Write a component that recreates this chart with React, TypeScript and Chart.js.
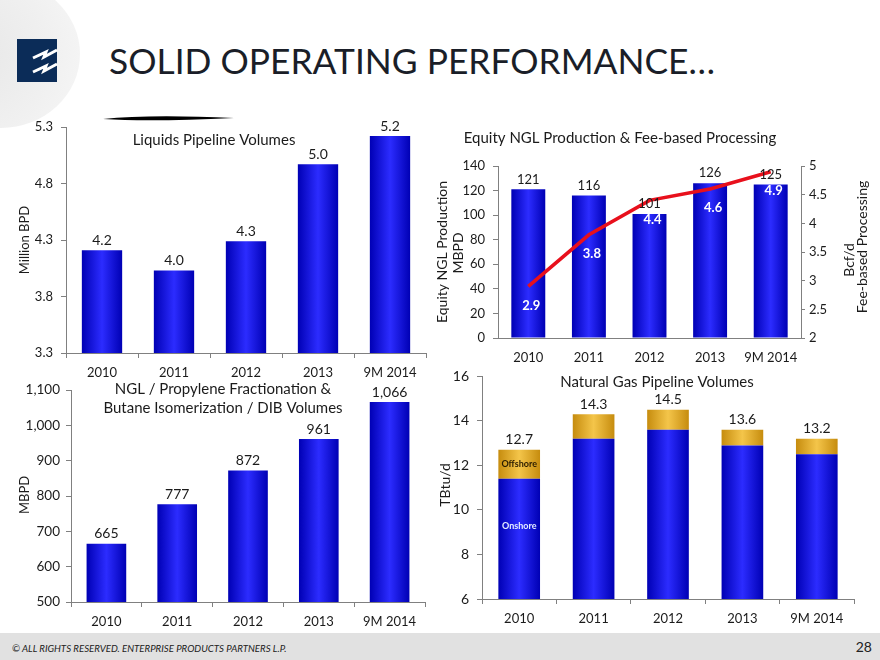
import React, { useEffect, useRef } from "react";
import { Chart, registerables } from "chart.js";

Chart.register(...registerables);

// ---------- data ----------
const years = ["2010", "2011", "2012", "2013", "9M 2014"];

const liquidsVolumes = [4.21, 4.03, 4.29, 4.97, 5.22];
const liquidsTicks = [3.3, 3.8, 4.3, 4.8, 5.3];

const nglProduction = [121, 116, 101, 126, 125];
const nglTicks = [0, 20, 40, 60, 80, 100, 120, 140];
const feeProcessing = [2.9, 3.8, 4.4, 4.6, 4.9];
const feeTicks = [2, 2.5, 3, 3.5, 4, 4.5, 5];

const fractionation = [665, 777, 872, 961, 1066];
const fractionationTicks = [500, 600, 700, 800, 900, 1000, 1100];

const onshore = [11.4, 13.2, 13.6, 12.9, 12.5];
const offshore = [1.3, 1.1, 0.9, 0.7, 0.7];
const gasTicks = [6, 8, 10, 12, 14, 16];

// ---------- style ----------
const FONT = "Lato, 'Open Sans', 'DejaVu Sans', sans-serif";
const TEXT = "#1b1b1b";
const AXIS = "#808080";
const BLUE = ["#0000B4", "#2C2CFF"];
const GOLD = ["#C68C0E", "#F4C54A"];
const BAR_PCT = 0.56;

function gradientFill(stops: string[]) {
  return (ctx: any) => {
    const chart = ctx.chart;
    const xs = chart.scales && chart.scales.x;
    if (ctx.type !== "data" || !xs || !chart.chartArea) return stops[1];
    const cx = xs.getPixelForValue(ctx.dataIndex);
    const w = (xs.width / years.length) * BAR_PCT;
    if (!isFinite(cx) || !isFinite(w)) return stops[1];
    const g = chart.ctx.createLinearGradient(cx - w / 2, 0, cx + w / 2, 0);
    g.addColorStop(0, stops[0]);
    g.addColorStop(0.5, stops[1]);
    g.addColorStop(1, stops[0]);
    return g;
  };
}

function txt(c: CanvasRenderingContext2D, s: string, x: number, y: number, size: number, o: any = {}) {
  c.save();
  c.font = `${o.weight || "normal"} ${size}px ${FONT}`;
  c.fillStyle = o.color || TEXT;
  c.textAlign = o.align || "center";
  c.textBaseline = "middle";
  c.translate(x, y);
  if (o.rot) c.rotate(o.rot);
  c.fillText(s, 0, 0);
  c.restore();
}

function yAxis(ticks: number[], width: number, fmt: (v: number) => string, padding: number, position = "left", size = 13, tickLength = 5) {
  return {
    type: "linear",
    position,
    min: ticks[0],
    max: ticks[ticks.length - 1],
    afterBuildTicks: (s: any) => {
      s.ticks = ticks.map((v) => ({ value: v }));
    },
    afterFit: (s: any) => {
      s.width = width;
    },
    grid: { drawOnChartArea: false, drawTicks: true, tickLength, color: AXIS },
    border: { color: AXIS },
    ticks: { font: { size, family: FONT }, color: TEXT, padding, callback: (v: number) => fmt(v) },
  };
}

function xAxis(height: number, drawTicks = true, padding = 7, size = 13) {
  return {
    type: "category",
    afterFit: (s: any) => {
      s.height = height;
    },
    grid: { drawOnChartArea: false, drawTicks, tickLength: 5, color: AXIS, offset: true },
    border: { color: AXIS },
    ticks: { font: { size, family: FONT }, color: TEXT, padding, maxRotation: 0, autoSkip: false },
  };
}

const baseOptions = (padding: any) => ({
  responsive: false,
  animation: false,
  layout: { padding },
  plugins: { legend: { display: false }, tooltip: { enabled: false } },
});

// ---------- chart configs ----------
function liquidsConfig(): any {
  return {
    type: "bar",
    data: {
      labels: years,
      datasets: [
        { data: liquidsVolumes, backgroundColor: gradientFill(BLUE), barPercentage: BAR_PCT, categoryPercentage: 1 },
      ],
    },
    options: {
      ...baseOptions({ top: 17, right: 4, left: 0, bottom: 0 }),
      scales: { x: xAxis(32), y: yAxis(liquidsTicks, 66, (v) => v.toFixed(1), 8) },
    },
    plugins: [
      {
        id: "liqText",
        afterDatasetsDraw(chart: any) {
          const c = chart.ctx;
          txt(c, "Liquids Pipeline Volumes", 214, 30, 15);
          chart.getDatasetMeta(0).data.forEach((el: any, i: number) => {
            txt(c, liquidsVolumes[i].toFixed(1), el.x, el.y - 10, 14);
          });
          txt(c, "Million BPD", 25, 130, 13, { rot: -Math.PI / 2 });
        },
      },
    ],
  };
}

function nglConfig(): any {
  return {
    type: "bar",
    data: {
      labels: years,
      datasets: [
        {
          type: "line",
          data: feeProcessing,
          yAxisID: "y1",
          borderColor: "#E8101C",
          borderWidth: 3.5,
          pointRadius: 0,
          tension: 0,
          order: 0,
        },
        {
          type: "bar",
          data: nglProduction,
          yAxisID: "y",
          backgroundColor: gradientFill(BLUE),
          barPercentage: BAR_PCT,
          categoryPercentage: 1,
          order: 1,
        },
      ],
    },
    options: {
      ...baseOptions({ top: 46, right: 0, left: 0, bottom: 0 }),
      scales: {
        x: xAxis(32, false, 12),
        y: yAxis(nglTicks, 68, (v) => String(v), 8),
        y1: yAxis(feeTicks, 79, (v) => String(v), 4, "right", 13, 4),
      },
    },
    plugins: [
      {
        id: "nglText",
        afterDatasetsDraw(chart: any) {
          const c = chart.ctx;
          txt(c, "Equity NGL Production & Fee-based Processing", 190, 18, 15);
          chart.getDatasetMeta(1).data.forEach((el: any, i: number) => {
            txt(c, String(nglProduction[i]), el.x, el.y - 10, 13);
          });
          chart.getDatasetMeta(0).data.forEach((el: any, i: number) => {
            txt(c, feeProcessing[i].toFixed(1), el.x + 3, el.y + 19, 13, { color: "#FFFFFF", weight: "bold" });
          });
          txt(c, "Equity NGL Production", 12, 132, 14, { rot: -Math.PI / 2 });
          txt(c, "MBPD", 28, 133, 14, { rot: -Math.PI / 2 });
          txt(c, "Bcf/d", 419, 140, 14, { rot: -Math.PI / 2 });
          txt(c, "Fee-based Processing", 432, 127, 14, { rot: -Math.PI / 2 });
        },
      },
    ],
  };
}

function fractionationConfig(): any {
  return {
    type: "bar",
    data: {
      labels: years,
      datasets: [
        { data: fractionation, backgroundColor: gradientFill(BLUE), barPercentage: BAR_PCT, categoryPercentage: 1 },
      ],
    },
    options: {
      ...baseOptions({ top: 15, right: 5, left: 0, bottom: 0 }),
      scales: {
        x: xAxis(33),
        y: yAxis(fractionationTicks, 71, (v) => v.toLocaleString("en-US"), 6, "left", 13.5),
      },
    },
    plugins: [
      {
        id: "fracText",
        afterDatasetsDraw(chart: any) {
          const c = chart.ctx;
          txt(c, "NGL / Propylene Fractionation &", 223, 14, 15);
          txt(c, "Butane Isomerization / DIB Volumes", 223, 33, 15);
          chart.getDatasetMeta(0).data.forEach((el: any, i: number) => {
            txt(c, fractionation[i].toLocaleString("en-US"), el.x, el.y - 10, 14);
          });
          txt(c, "MBPD", 25, 120, 13, { rot: -Math.PI / 2 });
        },
      },
    ],
  };
}

function gasConfig(): any {
  return {
    type: "bar",
    data: {
      labels: years,
      datasets: [
        {
          label: "Onshore",
          data: onshore,
          backgroundColor: gradientFill(BLUE),
          barPercentage: BAR_PCT,
          categoryPercentage: 1,
        },
        {
          label: "Offshore",
          data: offshore,
          backgroundColor: gradientFill(GOLD),
          barPercentage: BAR_PCT,
          categoryPercentage: 1,
        },
      ],
    },
    options: {
      ...baseOptions({ top: 13, right: 26, left: 0, bottom: 0 }),
      scales: {
        x: { ...xAxis(36), stacked: true },
        y: { ...yAxis(gasTicks, 52, (v) => String(v), 8, "left", 14), stacked: true },
      },
    },
    plugins: [
      {
        id: "gasText",
        afterDatasetsDraw(chart: any) {
          const c = chart.ctx;
          const area = chart.chartArea;
          txt(c, "Natural Gas Pipeline Volumes", 227, 22, 15);
          chart.getDatasetMeta(1).data.forEach((el: any, i: number) => {
            const total = onshore[i] + offshore[i];
            txt(c, total.toFixed(1), el.x, el.y - 10, 14);
          });
          const off = chart.getDatasetMeta(1).data[0];
          const on = chart.getDatasetMeta(0).data[0];
          if (off) txt(c, "Offshore", off.x, (off.y + off.base) / 2, 9, { weight: "bold", color: "#2a1c00" });
          if (on) {
            const bottom = Math.min(on.base, area.bottom);
            txt(c, "Onshore", on.x, (on.y + bottom) / 2 - 13, 9, { weight: "bold", color: "#E4ECFF" });
          }
          txt(c, "TBtu/d", 15, 125, 14, { rot: -Math.PI / 2 });
        },
      },
    ],
  };
}

// ---------- components ----------
function ChartBox(props: { left: number; top: number; width: number; height: number; make: () => any }) {
  const ref = useRef<HTMLCanvasElement | null>(null);
  useEffect(() => {
    const chart = new Chart(ref.current as HTMLCanvasElement, props.make());
    return () => chart.destroy();
  }, []);
  return (
    <canvas
      ref={ref}
      width={props.width}
      height={props.height}
      style={{ position: "absolute", left: props.left, top: props.top, width: props.width, height: props.height }}
    />
  );
}

function fitScale(text: string, font: string, target: number) {
  try {
    const c = document.createElement("canvas").getContext("2d") as CanvasRenderingContext2D;
    c.font = font;
    const w = c.measureText(text).width;
    return w > 0 ? target / w : 1;
  } catch (e) {
    return 1;
  }
}

const TITLE = "SOLID OPERATING PERFORMANCE…";
const FOOTER = "© ALL RIGHTS RESERVED. ENTERPRISE PRODUCTS PARTNERS L.P.";

export default function App() {
  const titleScale = fitScale(TITLE, `35px ${FONT}`, 606);
  const footScale = fitScale(FOOTER, `italic 10px ${FONT}`, 275);
  return (
    <div
      style={{
        position: "absolute",
        left: 0,
        top: 0,
        width: 880,
        height: 660,
        overflow: "hidden",
        background: "#ffffff",
        fontFamily: FONT,
      }}
    >
      <div
        style={{
          position: "absolute",
          left: -78,
          top: -20,
          width: 158,
          height: 148,
          borderRadius: "50%",
          background: "radial-gradient(circle at 30% 50%, #e7e7e7 0%, #f0f0f0 60%, #f7f7f7 100%)",
        }}
      />
      <svg style={{ position: "absolute", left: 0, top: 0 }} width={260} height={130}>
        <rect x={17} y={39} width={40} height={43} fill="#0B2C58" />
        <polyline points="33,58 46,52 44,57 57,50" fill="none" stroke="#ffffff" strokeWidth={3} strokeLinejoin="miter" />
        <polyline points="33,72 46,66 44,71 57,64" fill="none" stroke="#ffffff" strokeWidth={3} strokeLinejoin="miter" />
        <path d="M103 119 Q150 114 234 118 Q150 122 103 119 Z" fill="#000000" />
      </svg>
      <div
        style={{
          position: "absolute",
          left: 109,
          top: 43,
          font: `35px ${FONT}`,
          lineHeight: "35px",
          color: "#1a1e28",
          whiteSpace: "nowrap",
          transformOrigin: "0 0",
          transform: `scaleX(${titleScale})`,
        }}
      >
        {TITLE}
      </div>

      <ChartBox left={0} top={110} width={430} height={275} make={liquidsConfig} />
      <ChartBox left={430} top={120} width={450} height={250} make={nglConfig} />
      <ChartBox left={0} top={375} width={430} height={260} make={fractionationConfig} />
      <ChartBox left={430} top={360} width={450} height={275} make={gasConfig} />

      <div style={{ position: "absolute", left: 0, top: 633, width: 880, height: 27, background: "#E1E1E1" }} />
      <div
        style={{
          position: "absolute",
          left: 12,
          top: 642,
          font: `italic 10px ${FONT}`,
          lineHeight: "12px",
          color: "#222",
          whiteSpace: "nowrap",
          transformOrigin: "0 0",
          transform: `scaleX(${footScale})`,
        }}
      >
        {FOOTER}
      </div>
      <div
        style={{
          position: "absolute",
          left: 850,
          top: 639,
          width: 22,
          textAlign: "right",
          font: `14px ${FONT}`,
          lineHeight: "16px",
          color: "#222",
        }}
      >
        28
      </div>
    </div>
  );
}
